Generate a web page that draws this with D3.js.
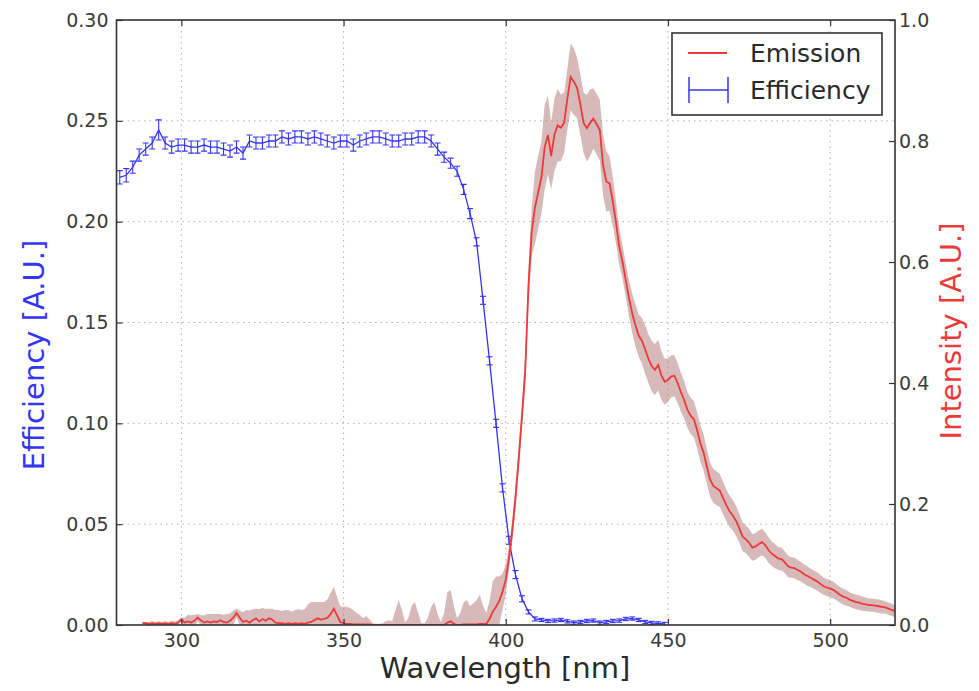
<!DOCTYPE html>
<html>
<head>
<meta charset="utf-8">
<script src="https://cdn.jsdelivr.net/npm/d3@7"></script>
<style>
  body { margin: 0; background: #fff; }
  svg { font-family: "DejaVu Sans", sans-serif; }
  .tick text { fill: #3a3a3a; font-size: 19px; }
</style>
</head>
<body>
<svg id="chart" width="979" height="691"></svg>
<script>
// EFFICIENCY (left axis), sampled every 2 nm
var effWl = [281,283,285,287,289,291,293,295,297,299,
    301,303,305,307,309,311,313,315,317,319,
    321,323,325,327,329,331,333,335,337,339,
    341,343,345,347,349,351,353,355,357,359,
    361,363,365,367,369,371,373,375,377,379,
    381,383,385,387,389,391,393,395,397,399,
    401,403,405,407,409,411,413,415,417,419,
    421,423,425,427,429,431,433,435,437,439,
    441,443,445,447,449];
var effVal = [0.222,0.223,0.227,0.233,0.236,0.239,0.2455,0.239,0.237,0.238,
    0.238,0.237,0.237,0.238,0.237,0.237,0.236,0.235,0.237,0.234,
    0.240,0.239,0.239,0.240,0.240,0.242,0.241,0.242,0.242,0.241,
    0.242,0.241,0.240,0.239,0.240,0.240,0.238,0.240,0.241,0.242,
    0.242,0.241,0.240,0.240,0.241,0.241,0.242,0.242,0.240,0.236,
    0.232,0.229,0.225,0.216,0.204,0.190,0.161,0.131,0.100,0.068,
    0.042,0.025,0.013,0.0065,0.003,0.0025,0.002,0.0022,0.0025,0.0018,
    0.0012,0.0015,0.002,0.0022,0.0012,0.0015,0.002,0.0022,0.003,0.0032,
    0.0025,0.0015,0.001,0.0008,0.0005];
var effErr = [0.0033,0.0033,0.003,0.003,0.003,0.003,0.005,0.003,0.003,0.003,
    0.003,0.003,0.003,0.003,0.003,0.003,0.003,0.003,0.003,0.003,
    0.003,0.003,0.003,0.003,0.003,0.003,0.003,0.003,0.003,0.003,
    0.003,0.003,0.003,0.003,0.003,0.003,0.003,0.003,0.003,0.003,
    0.003,0.003,0.003,0.003,0.003,0.003,0.003,0.003,0.003,0.003,
    0.0025,0.0025,0.0025,0.0025,0.0025,0.002,0.002,0.002,0.002,0.002,
    0.002,0.002,0.0015,0.001,0.001,0.0008,0.0008,0.0008,0.0008,0.0008,
    0.0008,0.0008,0.0008,0.0008,0.0008,0.0008,0.0008,0.0008,0.0008,0.0008,
    0.0008,0.0008,0.0008,0.0008,0.0008];

// EMISSION (right axis), every 1 nm, with spread for the shaded band
var emWl = [288,289,290,291,292,293,294,295,296,297,298,299,
    300,301,302,303,304,305,306,307,308,309,
    310,311,312,313,314,315,316,317,318,319,
    320,321,322,323,324,325,326,327,328,329,
    330,331,332,333,334,335,336,337,338,339,
    340,341,342,343,344,345,346,347,348,349,
    350,351,352,353,354,355,356,357,358,359,
    360,361,362,363,364,365,366,367,368,369,
    370,371,372,373,374,375,376,377,378,379,
    380,381,382,383,384,385,386,387,388,389,
    390,391,392,393,394,395,396,397,398,399,
    400,401,402,403,404,405,406,407,408,409,
    410,411,412,413,414,415,416,417,418,419,
    420,421,422,423,424,425,426,427,428,429,
    430,431,432,433,434,435,436,437,438,439,
    440,441,442,443,444,445,446,447,448,449,
    450,451,452,453,454,455,456,457,458,459,
    460,461,462,463,464,465,466,467,468,469,
    470,471,472,473,474,475,476,477,478,479,
    480,481,482,483,484,485,486,487,488,489,
    490,491,492,493,494,495,496,497,498,499,
    500,501,502,503,504,505,506,507,508,509,
    510,511,512,513,514,515,516,517,518,519,
    520];
var emVal = [0.003,0.003,0.002,0.003,0.002,0.003,0.002,0.003,0.002,0.003,0.002,0.004,
    0.009,0.004,0.006,0.004,0.007,0.012,0.008,0.004,0.006,0.004,
    0.006,0.005,0.008,0.005,0.004,0.007,0.012,0.020,0.012,0.005,
    0.007,0.004,0.008,0.011,0.006,0.010,0.007,0.011,0.009,0.004,
    0.003,0.003,0.002,0.003,0.002,0.003,0.002,0.003,0.002,0.004,
    0.005,0.008,0.011,0.009,0.010,0.012,0.018,0.027,0.016,0.005,
    0.003,0.002,0.002,0.001,0.001,0.001,0.001,0.001,0.001,0.000,
    0,0,0,0,0,0,0,0,0,0,
    0,0,0,0,0,0,0,0,0,0,
    0.000,0.000,0.004,0.006,0.002,0.000,0.000,0.001,0.001,0.001,
    0.001,0.001,0.002,0.002,0.002,0.010,0.022,0.030,0.040,0.055,
    0.075,0.110,0.155,0.210,0.275,0.345,0.420,0.560,0.650,0.690,
    0.715,0.740,0.790,0.810,0.775,0.810,0.826,0.822,0.830,0.870,
    0.906,0.898,0.888,0.860,0.830,0.821,0.830,0.837,0.828,0.818,
    0.760,0.733,0.730,0.700,0.665,0.625,0.600,0.570,0.540,0.515,
    0.495,0.478,0.470,0.455,0.440,0.428,0.422,0.430,0.412,0.402,
    0.405,0.411,0.412,0.400,0.385,0.372,0.356,0.346,0.340,0.322,
    0.300,0.285,0.262,0.240,0.230,0.226,0.222,0.210,0.198,0.188,
    0.181,0.172,0.160,0.146,0.142,0.136,0.128,0.130,0.134,0.137,
    0.132,0.124,0.118,0.114,0.110,0.109,0.104,0.097,0.095,0.094,
    0.091,0.088,0.084,0.081,0.078,0.075,0.072,0.068,0.064,0.062,
    0.060,0.058,0.054,0.050,0.047,0.045,0.042,0.040,0.038,0.037,
    0.035,0.034,0.033,0.033,0.032,0.031,0.030,0.029,0.027,0.025,
    0.023];
var emErr = [0.002,0.002,0.003,0.003,0.003,0.003,0.003,0.003,0.003,0.004,0.004,0.004,
    0.004,0.008,0.011,0.012,0.010,0.006,0.008,0.012,0.012,0.014,
    0.012,0.013,0.010,0.012,0.014,0.012,0.012,0.007,0.012,0.016,
    0.018,0.020,0.018,0.016,0.020,0.018,0.020,0.016,0.018,0.021,
    0.022,0.020,0.023,0.022,0.020,0.022,0.024,0.022,0.024,0.030,
    0.033,0.030,0.027,0.029,0.028,0.030,0.035,0.036,0.030,0.026,
    0.027,0.028,0.026,0.024,0.019,0.016,0.010,0.014,0.008,0.003,
    0.002,0.002,0.003,0.006,0.008,0.006,0.025,0.041,0.025,0.004,
    0.012,0.032,0.038,0.020,0.003,0.003,0.012,0.030,0.038,0.018,
    0.005,0.020,0.050,0.052,0.030,0.011,0.020,0.036,0.040,0.030,
    0.035,0.040,0.048,0.030,0.018,0.030,0.050,0.050,0.040,0.030,
    0.025,0.020,0.020,0.020,0.020,0.022,0.025,0.030,0.040,0.060,
    0.060,0.060,0.070,0.065,0.055,0.060,0.060,0.055,0.050,0.050,
    0.055,0.055,0.050,0.050,0.050,0.055,0.055,0.050,0.050,0.050,
    0.050,0.050,0.045,0.040,0.035,0.030,0.028,0.028,0.030,0.032,
    0.035,0.035,0.038,0.040,0.040,0.042,0.042,0.042,0.040,0.038,
    0.036,0.035,0.034,0.033,0.032,0.031,0.030,0.030,0.030,0.030,
    0.030,0.030,0.029,0.028,0.028,0.028,0.027,0.027,0.026,0.026,
    0.025,0.025,0.024,0.024,0.023,0.023,0.022,0.022,0.022,0.022,
    0.021,0.021,0.020,0.020,0.019,0.019,0.018,0.018,0.017,0.017,
    0.017,0.016,0.016,0.016,0.015,0.015,0.015,0.015,0.014,0.014,
    0.014,0.014,0.013,0.013,0.013,0.013,0.012,0.012,0.012,0.012,
    0.012,0.011,0.011,0.011,0.011,0.011,0.011,0.010,0.010,0.010,
    0.010];

var xTicks = [300, 350, 400, 450, 500];
var yLeftTicks = [0.00, 0.05, 0.10, 0.15, 0.20, 0.25, 0.30];
var yRightTicks = [0.0, 0.2, 0.4, 0.6, 0.8, 1.0];
var legendLabels = ["Emission", "Efficiency"];

var blue = "#3434f4";
var red = "#ec3a3a";

// plot box (note: "top" is taken by window.top, so use other names)
var pLeft = 116.5, pRight = 895, pTop = 20, pBottom = 625;

var svg = d3.select("#chart");
svg.append("rect").attr("width", 979).attr("height", 691).attr("fill", "#fff");

var x = d3.scaleLinear().domain([280, 520]).range([pLeft, pRight]);
var yL = d3.scaleLinear().domain([0, 0.3]).range([pBottom, pTop]);
var yR = d3.scaleLinear().domain([0, 1]).range([pBottom, pTop]);

svg.append("defs").append("clipPath").attr("id", "plot-clip")
    .append("rect").attr("x", pLeft).attr("y", pTop)
    .attr("width", pRight - pLeft).attr("height", pBottom - pTop);

// GRID (dotted, from the left axis and the x axis)
var grid = svg.append("g").attr("stroke", "#b0b0b0").attr("stroke-width", 1)
    .attr("stroke-dasharray", "1.5,4");
grid.selectAll("line.gx").data(xTicks).enter().append("line")
    .attr("x1", function (d) { return x(d); }).attr("x2", function (d) { return x(d); })
    .attr("y1", pTop).attr("y2", pBottom);
grid.selectAll("line.gy").data(yLeftTicks.slice(1, -1)).enter().append("line")
    .attr("y1", function (d) { return yL(d); }).attr("y2", function (d) { return yL(d); })
    .attr("x1", pLeft).attr("x2", pRight);

var plot = svg.append("g").attr("clip-path", "url(#plot-clip)");

// BLUE EFFICIENCY WITH ERROR BARS
var eff = effWl.map(function (w, i) { return { w: w, v: effVal[i], e: effErr[i] }; });
var effLine = d3.line().x(function (d) { return x(d.w); }).y(function (d) { return yL(d.v); });
plot.append("path").datum(eff).attr("d", effLine)
    .attr("fill", "none").attr("stroke", blue).attr("stroke-width", 1.3);
var bars = plot.append("g").attr("stroke", blue).attr("stroke-width", 1.1);
eff.forEach(function (d) {
    var cx = x(d.w), y0 = yL(d.v - d.e), y1 = yL(d.v + d.e);
    bars.append("line").attr("x1", cx).attr("x2", cx).attr("y1", y0).attr("y2", y1);
    bars.append("line").attr("x1", cx - 3).attr("x2", cx + 3).attr("y1", y0).attr("y2", y0);
    bars.append("line").attr("x1", cx - 3).attr("x2", cx + 3).attr("y1", y1).attr("y2", y1);
});

// RED EMISSION WITH BAND
var em = emWl.map(function (w, i) { return { w: w, v: emVal[i], e: emErr[i] }; });
var band = d3.area().x(function (d) { return x(d.w); })
    .y0(function (d) { return yR(d.v - d.e); })
    .y1(function (d) { return yR(d.v + d.e); });
plot.append("path").datum(em).attr("d", band)
    .attr("fill", "#b88080").attr("fill-opacity", 0.55);
var emLine = d3.line().x(function (d) { return x(d.w); }).y(function (d) { return yR(d.v); });
plot.append("path").datum(em).attr("d", emLine)
    .attr("fill", "none").attr("stroke", red).attr("stroke-width", 1.8);

// AXES, ticks pointing inward
svg.append("g").attr("transform", "translate(0," + pBottom + ")")
    .call(d3.axisBottom(x).tickValues(xTicks).tickSizeInner(-6).tickSizeOuter(0).tickPadding(9));
svg.append("g").attr("transform", "translate(0," + pTop + ")")
    .call(d3.axisTop(x).tickValues(xTicks).tickSizeInner(-6).tickSizeOuter(0).tickFormat(""));
svg.append("g").attr("transform", "translate(" + pLeft + ",0)")
    .call(d3.axisLeft(yL).tickValues(yLeftTicks).tickSizeInner(-6).tickSizeOuter(0)
        .tickPadding(8).tickFormat(d3.format(".2f")));
svg.append("g").attr("transform", "translate(" + pRight + ",0)")
    .call(d3.axisRight(yR).tickValues(yRightTicks).tickSizeInner(-6).tickSizeOuter(0)
        .tickPadding(4).tickFormat(d3.format(".1f")));
svg.selectAll(".domain").remove();
svg.selectAll(".tick line").attr("stroke", "#333").attr("stroke-width", 1.2);
svg.selectAll(".tick text").attr("font-family", "DejaVu Sans");

svg.append("rect").attr("x", pLeft).attr("y", pTop)
    .attr("width", pRight - pLeft).attr("height", pBottom - pTop)
    .attr("fill", "none").attr("stroke", "#333").attr("stroke-width", 1.6);

// AXIS LABELS
svg.append("text").attr("x", 505).attr("y", 678).attr("text-anchor", "middle")
    .attr("font-size", 29).attr("fill", "#2a2a2a").text("Wavelength [nm]");
svg.append("text").attr("transform", "translate(44,355) rotate(-90)")
    .attr("text-anchor", "middle").attr("font-size", 29).attr("fill", blue)
    .text("Efficiency [A.U.]");
svg.append("text").attr("transform", "translate(961,331) rotate(-90)")
    .attr("text-anchor", "middle").attr("font-size", 29).attr("fill", red)
    .text("Intensity [A.U.]");

// LEGEND
var legend = svg.append("g");
legend.append("rect").attr("x", 672).attr("y", 33).attr("width", 210).attr("height", 82)
    .attr("fill", "#fff").attr("stroke", "#333").attr("stroke-width", 1.6);
legend.append("line").attr("x1", 688).attr("x2", 727).attr("y1", 53).attr("y2", 53)
    .attr("stroke", red).attr("stroke-width", 2);
legend.append("line").attr("x1", 689).attr("x2", 728).attr("y1", 90).attr("y2", 90)
    .attr("stroke", blue).attr("stroke-width", 1.5);
[689, 728].forEach(function (lx) {
    legend.append("line").attr("x1", lx).attr("x2", lx).attr("y1", 77).attr("y2", 103)
        .attr("stroke", blue).attr("stroke-width", 1.5);
});
legend.selectAll("text.lg").data(legendLabels).enter().append("text")
    .attr("x", 750).attr("y", function (d, i) { return i === 0 ? 62 : 99; })
    .attr("font-size", 25).attr("fill", "#2a2a2a").text(function (d) { return d; });
</script>
</body>
</html>
